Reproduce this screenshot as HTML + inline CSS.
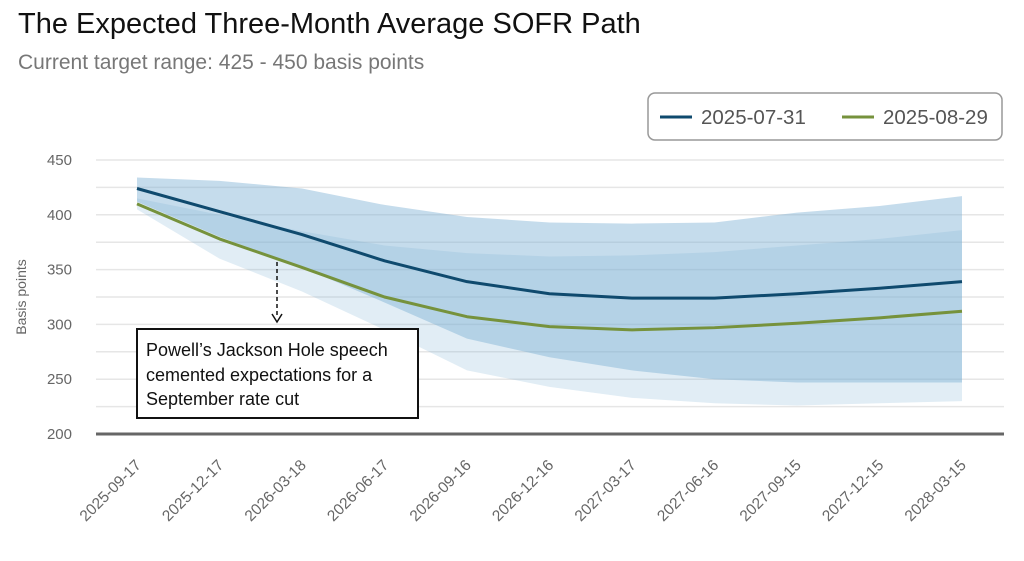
<!DOCTYPE html>
<html><head><meta charset="utf-8"><style>
body{margin:0;background:#fff;width:1024px;height:556px;overflow:hidden;font-family:"Liberation Sans",sans-serif}
</style></head><body>
<svg id="chart" width="1024" height="556" xmlns="http://www.w3.org/2000/svg">
<text x="18" y="33" font-size="29" fill="#111">The Expected Three-Month Average SOFR Path</text>
<text x="18" y="69" font-size="21" fill="#777">Current target range: 425 - 450 basis points</text>
<g id="grid"></g>
<g id="bands"></g>
<g id="lines"></g>
<g id="axes"></g>
<g>
<rect x="648" y="93" width="354" height="47" rx="7" fill="#fff" stroke="#999" stroke-width="1.5"/>
<line x1="660" y1="117" x2="692" y2="117" stroke="#0f4a6e" stroke-width="3"/>
<text x="701" y="124" font-size="20.5" fill="#555">2025-07-31</text>
<line x1="842" y1="117" x2="874" y2="117" stroke="#76923c" stroke-width="3"/>
<text x="883" y="124" font-size="20.5" fill="#555">2025-08-29</text>
</g>
<g>
<line x1="277" y1="262" x2="277" y2="318" stroke="#111" stroke-width="1.5" stroke-dasharray="4,3"/>
<polyline points="272,314 277,322 282,314" fill="none" stroke="#111" stroke-width="1.5"/>
<rect x="137" y="329" width="281" height="89" fill="#fff" stroke="#111" stroke-width="2"/>
<text font-size="18" fill="#111">
<tspan x="146" y="356">Powell’s Jackson Hole speech</tspan>
<tspan x="146" y="381">cemented expectations for a</tspan>
<tspan x="146" y="405">September rate cut</tspan></text>
</g>
</svg>
<script>
const categories=["2025-09-17","2025-12-17","2026-03-18","2026-06-17","2026-09-16","2026-12-16","2027-03-17","2027-06-16","2027-09-15","2027-12-15","2028-03-15"];
const julyValues=[424,403,382,358,339,328,324,324,328,333,339];
const augValues=[410,378,352,325,307,298,295,297,301,306,312];
const julyUpper=[434,431,424,409,398,393,392,393,402,408,417];
const julyLower=[412,380,352,320,287,270,258,250,247,247,247];
const augUpper=[415,400,385,372,365,362,363,366,372,378,386];
const augLower=[405,360,330,295,258,243,233,228,226,228,230];
const yTicks=[200,250,300,350,400,450];
const NS="http://www.w3.org/2000/svg";
const x=i=>137+i*82.5;
const y=v=>434-(v-200)*1.096;
function mk(tag,attrs,parent){const e=document.createElementNS(NS,tag);for(const k in attrs)e.setAttribute(k,attrs[k]);document.getElementById(parent).appendChild(e);return e;}
for(let v=200;v<=450;v+=25){const g=mk('line',{x1:96,x2:1004,y1:y(v),y2:y(v),stroke:'#e6e6e6','stroke-width':1.5},'grid');

}
yTicks.forEach(v=>{const t=mk('text',{x:72,y:y(v)+5,'font-size':15,fill:'#666','text-anchor':'end'},'axes');t.textContent=v;

});
const yt=mk('text',{x:0,y:0,'font-size':14,fill:'#666','text-anchor':'middle',transform:'translate(26,297) rotate(-90)'},'axes');yt.textContent='Basis points';


const ax=mk('line',{x1:96,x2:1004,y1:434,y2:434,stroke:'#666','stroke-width':3},'axes');


categories.forEach((c,i)=>{const t=mk('text',{x:0,y:0,'font-size':15.5,fill:'#666','text-anchor':'end',transform:`translate(${x(i)+5},${466}) rotate(-45)`},'axes');t.textContent=c;

});
function band(up,lo,fill,op,name){const pts=up.map((v,i)=>x(i)+','+y(v)).concat(lo.map((v,i)=>x(i)+','+y(v)).reverse());
const p=mk('polygon',{points:pts.join(' '),fill:fill,'fill-opacity':op},'bands');

}
band(augUpper,augLower,'#7fb2d5',0.23,'band-2025-08-29');
band(julyUpper,julyLower,'#7fb2d5',0.45,'band-2025-07-31');
function line(vals,col,name){const p=mk('polyline',{points:vals.map((v,i)=>x(i)+','+y(v)).join(' '),fill:'none',stroke:col,'stroke-width':3,'stroke-linejoin':'round'},'lines');

}
line(julyValues,'#0f4a6e','line-2025-07-31');
line(augValues,'#76923c','line-2025-08-29');
</script>
</body></html>
